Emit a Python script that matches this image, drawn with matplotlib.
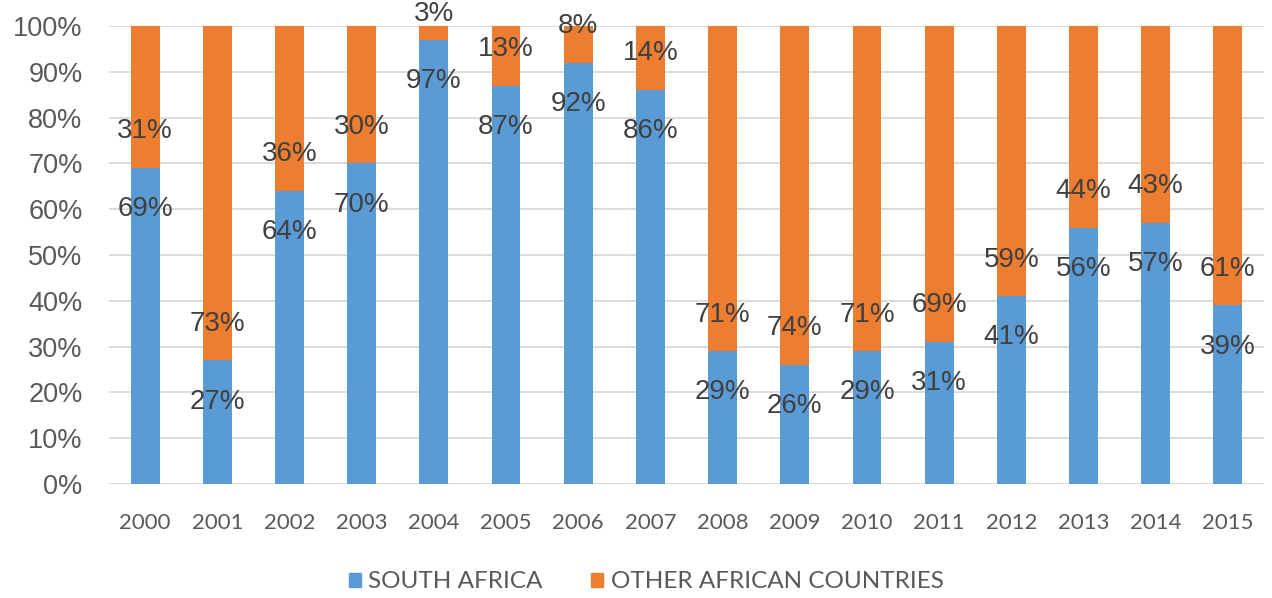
import numpy as np
import matplotlib
matplotlib.use("Agg")
import matplotlib.pyplot as plt
from matplotlib.ticker import PercentFormatter
from matplotlib.patches import Patch

# data (percent shares)
years = ['2000', '2001', '2002', '2003', '2004', '2005', '2006', '2007',
         '2008', '2009', '2010', '2011', '2012', '2013', '2014', '2015']
south_africa = [69, 27, 64, 70, 97, 87, 92, 86, 29, 26, 29, 31, 41, 56, 57, 39]
other_africa = [31, 73, 36, 30, 3, 13, 8, 14, 71, 74, 71, 69, 59, 44, 43, 61]
series_names = ['SOUTH AFRICA', 'OTHER AFRICAN COUNTRIES']

BLUE = '#5B9BD5'
ORANGE = '#ED7D31'
GRID = '#D9D9D9'
TXT = '#404040'
TICK = '#595959'

fig = plt.figure(figsize=(12.72, 5.98), dpi=100)
ax = fig.add_axes([0.0857, 0.1906, 0.9080, 0.7659])

x = np.arange(len(years))
ax.bar(x, south_africa, width=0.4, color=BLUE, zorder=2)
ax.bar(x, other_africa, width=0.4, bottom=south_africa, color=ORANGE, zorder=2)

ax.set_xlim(-0.5, len(years) - 0.5)
ax.set_ylim(0, 100)
ax.set_yticks(np.arange(0, 101, 10))
ax.yaxis.set_major_formatter(PercentFormatter(decimals=0))
ax.grid(axis='y', color=GRID, linewidth=1.3, zorder=0)
for s in ax.spines.values():
    s.set_visible(False)
ax.tick_params(axis='both', length=0)
ax.tick_params(axis='y', pad=19)
ax.tick_params(axis='x', pad=21)
ax.set_xticks(x)
ax.set_xticklabels(years, family=['Lato', 'DejaVu Sans'], fontsize=16, color=TICK)
for lab in ax.get_yticklabels():
    lab.set_family(['Liberation Sans', 'DejaVu Sans'])
    lab.set_fontsize(19.5)
    lab.set_color(TICK)

# data labels sit around the boundary between the two segments
for i in range(len(years)):
    sa = south_africa[i]
    ot = other_africa[i]
    ax.text(x[i], sa - 9, f'{sa}%', ha='center', va='center',
            family=['Liberation Sans', 'DejaVu Sans'], fontsize=20, color=TXT, zorder=3)
    ax.text(x[i], min(sa + 8, 102.6), f'{ot}%', ha='center', va='center',
            family=['Liberation Sans', 'DejaVu Sans'], fontsize=20, color=TXT, zorder=3,
            clip_on=False)

handles = [Patch(color=BLUE), Patch(color=ORANGE)]
fig.legend(handles, series_names, loc='center', bbox_to_anchor=(0.508, 0.027),
           ncol=2, frameon=False, handlelength=0.5, handleheight=0.5,
           handletextpad=0.3, columnspacing=2.0,
           prop={'family': ['Lato', 'DejaVu Sans'], 'size': 17.5},
           labelcolor=TICK)

fig.savefig('out.png', dpi=100)
